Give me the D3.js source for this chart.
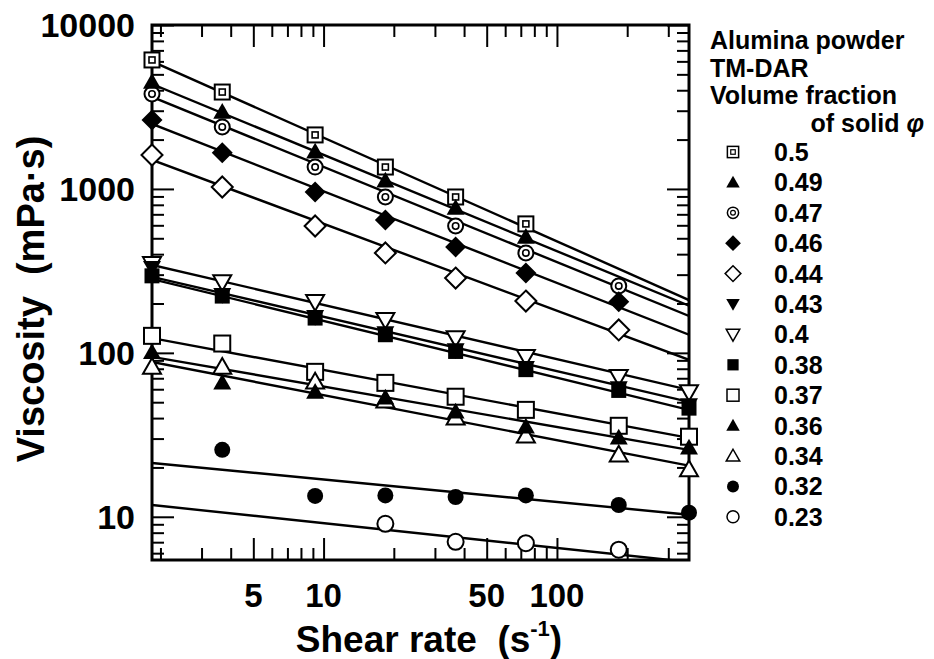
<!DOCTYPE html>
<html>
<head>
<meta charset="utf-8">
<script src="https://cdn.jsdelivr.net/npm/d3@7"></script>
<style>
body{margin:0;background:#fff}
text{font-family:"Liberation Sans",Arial,sans-serif;font-weight:bold;fill:#000}
</style>
</head>
<body>
<div id="chart"></div>
<script>
const width = 934, height = 659;
const plot = {left: 152, top: 25, right: 689, bottom: 560};

// shear rates (s-1) of the measurement points
const shearRates = [1.84, 3.68, 9.2, 18.4, 36.8, 73.6, 184, 368];

const fractions = ["0.5","0.49","0.47","0.46","0.44","0.43","0.4","0.38","0.37","0.36","0.34","0.32","0.23"];
const symbols = ["sq2","triF","circ2","diaF","diaO","triDF","triDO","sqF","sqO","triF","triO","cirF","cirO"];

// viscosity (mPa·s), null = no point
const v050 = [6120, 3900, 2135, 1360, 893, 612, null, null];
const v049 = [4490, 2950, 1683, 1120, 766, 509, null, null];
const v047 = [3795, 2390, 1360, 893, 594, 407, 256, null];
const v046 = [2636, 1660, 959, 647, 443, 307, 205, null];
const v044 = [1611, 1028, 594, 407, 286, 207, 138, null];
const v043 = [330, 226, 166, 132, 104, 81, 61, 48];
const v040 = [349, 271, 205, 159, 123, 94.6, 71.5, 57.8];
const v038 = [295, 222, 163, 129, 102, 79, 59, 46];
const v037 = [127, 114, 76.6, 65.6, 54, 44.9, 35.9, 30.8];
const v036 = [101, 65.6, 57.8, 53.2, 43.7, 35.4, 30.3, 26.4];
const v034 = [82, 82, 66.6, 51, 40.2, 31.2, 23.9, 19.4];
const v032 = [null, 25.6, 13.4, 13.5, 13.2, 13.5, 11.8, 10.6];
const v023 = [null, null, null, 9.06, 7.04, 6.9, 6.3, null];
const series = [v050, v049, v047, v046, v044, v043, v040, v038, v037, v036, v034, v032, v023];

// power-law fit lines: viscosity at the first and last shear rate
const lineStart = [6000, 4365, 3640, 2490, 1503, 291, 344, 282, 123, 94.6, 88, 21.3, 11.8];
const lineEnd   = [210, 194, 168, 129, 90.6, 50.2, 59.4, 44.9, 30.3, 25.6, 20.5, 10.3, 5.3];

const xMajorTicks = [5, 10, 50, 100];
const xMinorTicks = [2,3,4,6,7,8,9,20,30,40,60,70,80,90,200,300];
const yMajorTicks = [10, 100, 1000, 10000];
const yMinorTicks = [6,7,8,9,20,30,40,50,60,70,80,90,200,300,400,500,600,700,800,900,2000,3000,4000,5000,6000,7000,8000,9000];

const svg = d3.select("#chart").append("svg")
  .attr("width", width)
  .attr("height", height);

const x = d3.scaleLog().domain([1.84, 368]).range([plot.left, plot.right]);
const y = d3.scaleLog().domain([5.45, 10000]).range([plot.bottom, plot.top]);

svg.append("clipPath").attr("id", "clip")
  .append("rect")
  .attr("x", plot.left).attr("y", plot.top)
  .attr("width", plot.right - plot.left).attr("height", plot.bottom - plot.top);

// ticks, all pointing inward
function ticks(axis, vals, size, tr) {
  svg.append("g")
    .attr("transform", tr)
    .call(axis.tickValues(vals).tickSize(size).tickFormat(""))
    .call(g => g.select(".domain").remove())
    .selectAll("line").attr("stroke", "#000").attr("stroke-width", 2);
}
ticks(d3.axisBottom(x), xMajorTicks, -22, `translate(0,${plot.bottom})`);
ticks(d3.axisBottom(x), xMinorTicks, -12, `translate(0,${plot.bottom})`);
ticks(d3.axisTop(x), xMajorTicks, -22, `translate(0,${plot.top})`);
ticks(d3.axisTop(x), xMinorTicks, -12, `translate(0,${plot.top})`);
ticks(d3.axisLeft(y), yMajorTicks, -22, `translate(${plot.left},0)`);
ticks(d3.axisLeft(y), yMinorTicks, -12, `translate(${plot.left},0)`);
ticks(d3.axisRight(y), yMajorTicks, -22, `translate(${plot.right},0)`);
ticks(d3.axisRight(y), yMinorTicks, -12, `translate(${plot.right},0)`);

// tick labels
svg.append("g").selectAll("text")
  .data(xMajorTicks).enter().append("text")
  .attr("x", d => x(d))
  .attr("y", 607)
  .attr("text-anchor", "middle")
  .attr("font-size", 33)
  .text(d => d);

svg.append("g").selectAll("text")
  .data(yMajorTicks).enter().append("text")
  .attr("x", 135)
  .attr("y", d => y(d))
  .attr("dy", "0.36em")
  .attr("text-anchor", "end")
  .attr("font-size", 34)
  .text(d => d);

// frame
svg.append("rect")
  .attr("x", plot.left).attr("y", plot.top)
  .attr("width", plot.right - plot.left).attr("height", plot.bottom - plot.top)
  .attr("fill", "none").attr("stroke", "#000").attr("stroke-width", 3);

// fit lines
const xFirst = shearRates[0], xLast = shearRates[shearRates.length - 1];
svg.append("g").attr("clip-path", "url(#clip)")
  .selectAll("line")
  .data(fractions).enter().append("line")
  .attr("x1", x(xFirst))
  .attr("y1", (d, i) => y(lineStart[i]))
  .attr("x2", x(xLast))
  .attr("y2", (d, i) => y(lineEnd[i]))
  .attr("stroke", "#000")
  .attr("stroke-width", 2.4);

function marker(g, type, cx, cy, k) {
  const s = k || 1;
  const sw = 2 * s;
  const tri = (h, up) => {
    const a = 9 * s * h;
    return up
      ? `M${cx},${cy - a}L${cx + a},${cy + a * 0.75}L${cx - a},${cy + a * 0.75}Z`
      : `M${cx},${cy + a}L${cx + a},${cy - a * 0.75}L${cx - a},${cy - a * 0.75}Z`;
  };
  const dia = () => {
    const a = 10.5 * s;
    return `M${cx},${cy - a}L${cx + a},${cy}L${cx},${cy + a}L${cx - a},${cy}Z`;
  };
  switch (type) {
    case "sq2":
      g.append("rect").attr("x", cx - 7.5 * s).attr("y", cy - 7.5 * s).attr("width", 15 * s).attr("height", 15 * s)
        .attr("fill", "#fff").attr("stroke", "#000").attr("stroke-width", sw);
      g.append("rect").attr("x", cx - 3 * s).attr("y", cy - 3 * s).attr("width", 6 * s).attr("height", 6 * s)
        .attr("fill", "#fff").attr("stroke", "#000").attr("stroke-width", 1.6 * s);
      break;
    case "circ2":
      g.append("circle").attr("cx", cx).attr("cy", cy).attr("r", 7.5 * s)
        .attr("fill", "#fff").attr("stroke", "#000").attr("stroke-width", sw);
      g.append("circle").attr("cx", cx).attr("cy", cy).attr("r", 3.2 * s)
        .attr("fill", "#fff").attr("stroke", "#000").attr("stroke-width", 1.6 * s);
      break;
    case "triF":
      g.append("path").attr("d", tri(1, true)).attr("fill", "#000");
      break;
    case "triO":
      g.append("path").attr("d", tri(1, true)).attr("fill", "#fff").attr("stroke", "#000").attr("stroke-width", sw);
      break;
    case "triDF":
      g.append("path").attr("d", tri(1, false)).attr("fill", "#000");
      break;
    case "triDO":
      g.append("path").attr("d", tri(1, false)).attr("fill", "#fff").attr("stroke", "#000").attr("stroke-width", sw);
      break;
    case "diaF":
      g.append("path").attr("d", dia()).attr("fill", "#000");
      break;
    case "diaO":
      g.append("path").attr("d", dia()).attr("fill", "#fff").attr("stroke", "#000").attr("stroke-width", sw);
      break;
    case "sqF":
      g.append("rect").attr("x", cx - 7.5 * s).attr("y", cy - 7.5 * s).attr("width", 15 * s).attr("height", 15 * s).attr("fill", "#000");
      break;
    case "sqO":
      g.append("rect").attr("x", cx - 8 * s).attr("y", cy - 8 * s).attr("width", 16 * s).attr("height", 16 * s)
        .attr("fill", "#fff").attr("stroke", "#000").attr("stroke-width", sw);
      break;
    case "cirF":
      g.append("circle").attr("cx", cx).attr("cy", cy).attr("r", 8 * s).attr("fill", "#000");
      break;
    case "cirO":
      g.append("circle").attr("cx", cx).attr("cy", cy).attr("r", 8 * s)
        .attr("fill", "#fff").attr("stroke", "#000").attr("stroke-width", sw);
      break;
  }
}

// points: open symbols first, filled ones on top
const isFilled = t => ["triF","triDF","diaF","sqF","cirF"].includes(t);
const pts = svg.append("g");
const order = d3.range(fractions.length).sort((a, b) => isFilled(symbols[a]) - isFilled(symbols[b]));
order.forEach(i => {
  series[i].forEach((v, j) => {
    if (v == null) return;
    marker(pts, symbols[i], x(shearRates[j]), y(v));
  });
});

// axis titles
const xt = svg.append("text")
  .attr("x", 429).attr("y", 652)
  .attr("text-anchor", "middle")
  .attr("font-size", 37)
  .attr("xml:space", "preserve");
xt.append("tspan").text("Shear rate  (s");
xt.append("tspan").attr("font-size", 22).attr("dy", -16).text("-1");
xt.append("tspan").attr("dy", 16).text(")");

svg.append("text")
  .attr("transform", "translate(44,299) rotate(-90)")
  .attr("text-anchor", "middle")
  .attr("font-size", 38)
  .attr("xml:space", "preserve")
  .text("Viscosity  (mPa·s)");

// legend
const header = ["Alumina powder", "TM-DAR", "Volume fraction"];
const lg = svg.append("g");
lg.selectAll(".hdr").data(header).enter().append("text")
  .attr("x", 710).attr("y", (d, i) => 40 + i * 27.5)
  .attr("dy", "0.36em")
  .attr("font-size", 25)
  .text(d => d);
const phiLine = lg.append("text").attr("x", 924).attr("y", 122.5)
  .attr("dy", "0.36em")
  .attr("text-anchor", "end").attr("font-size", 25);
phiLine.append("tspan").text("of solid ");
phiLine.append("tspan").attr("font-style", "italic").text("φ");

fractions.forEach((f, i) => {
  const cy = 152 + i * 30.4;
  marker(lg, symbols[i], 733, cy, 0.75);
  lg.append("text").attr("x", 774).attr("y", cy).attr("dy", "0.36em")
    .attr("font-size", 25).text(f);
});
</script>
</body>
</html>
